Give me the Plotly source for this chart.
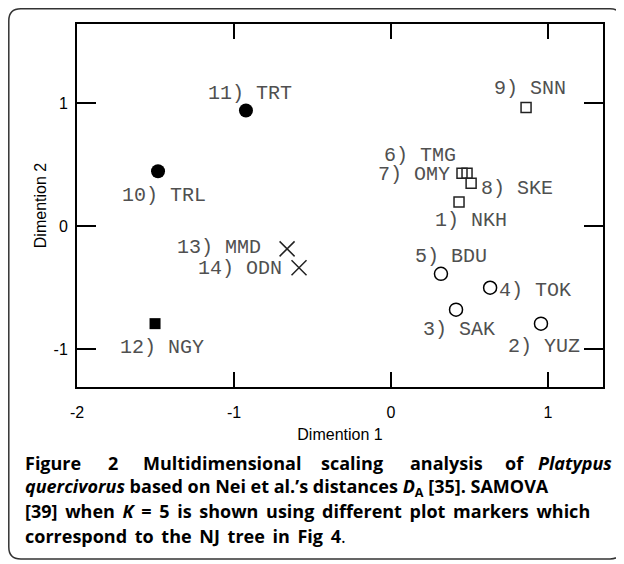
import plotly.graph_objects as go

# ---- data ----
pop_labels = ["1) NKH", "2) YUZ", "3) SAK", "4) TOK", "5) BDU", "6) TMG", "7) OMY",
              "8) SKE", "9) SNN", "10) TRL", "11) TRT", "12) NGY", "13) MMD", "14) ODN"]
dim1 = [0.433, 0.955, 0.414, 0.631, 0.318, 0.452, 0.484, 0.510, 0.860, -1.484, -0.924, -1.503, -0.662, -0.586]
dim2 = [0.194, -0.794, -0.680, -0.502, -0.389, 0.429, 0.429, 0.348, 0.964, 0.445, 0.939, -0.794, -0.186, -0.340]
group = ["sq", "oc", "oc", "oc", "oc", "sq", "sq", "sq", "sq", "fc", "fc", "fs", "x", "x"]
x_ticks = [-2, -1, 0, 1]
y_ticks = [-1, 0, 1]

# label offsets in pixels (style)
label_shift = {
    "1) NKH": (12, -18), "2) YUZ": (3, -23), "3) SAK": (3, -20), "4) TOK": (45, -3),
    "5) BDU": (10, 17), "6) TMG": (-42, 18), "7) OMY": (-53, -1), "8) SKE": (46, -5),
    "9) SNN": (4, 19), "10) TRL": (6, -24), "11) TRT": (4, 17), "12) NGY": (7, -24),
    "13) MMD": (-68, 1), "14) ODN": (-59, -1),
}

styles = {
    "oc": dict(symbol="circle-open", size=13, color="black", line=dict(width=1.5, color="black")),
    "sq": dict(symbol="square-open", size=10, color="#222", line=dict(width=1.5, color="#222")),
    "fc": dict(symbol="circle", size=14, color="black", line=dict(width=0)),
    "fs": dict(symbol="square", size=11, color="black", line=dict(width=0)),
    "x": dict(symbol="x-thin-open", size=15, color="#222", line=dict(width=1.5, color="#222")),
}

fig = go.Figure()
for g, st in styles.items():
    xs = [dim1[i] for i in range(len(dim1)) if group[i] == g]
    ys = [dim2[i] for i in range(len(dim2)) if group[i] == g]
    fig.add_trace(go.Scatter(x=xs, y=ys, mode="markers", marker=st,
                             showlegend=False, hoverinfo="skip"))

for i, lab in enumerate(pop_labels):
    dx, dy = label_shift[lab]
    fig.add_annotation(x=dim1[i], y=dim2[i], xref="x", yref="y", text=lab,
                       showarrow=False, xshift=dx, yshift=dy,
                       font=dict(family="Liberation Mono", size=20, color="#505050"))

axis_common = dict(showline=True, linewidth=2, linecolor="black", mirror="ticks",
                   ticks="inside", tickwidth=2, tickcolor="black", showgrid=False,
                   zeroline=False, automargin=False,
                   tickfont=dict(family="Liberation Sans, Arial", size=16, color="black"),
                   title_font=dict(family="Liberation Sans, Arial", size=16, color="black"))

fig.update_xaxes(range=[-2, 1.35], tickvals=x_ticks, ticktext=[str(v) for v in x_ticks],
                 ticklen=15, title_text="Dimention 1", title_standoff=9,
                 ticklabelstandoff=10, **axis_common)
fig.update_yaxes(range=[-1.309, 1.642], tickvals=y_ticks, ticktext=[str(v) for v in y_ticks],
                 ticklen=19, title_text="Dimention 2", title_standoff=3,
                 ticklabelstandoff=4, **axis_common)

# page body adds an 8px offset, so the figure is 8px smaller than the window
W, H = 616, 556
ml, mr, mt, mb = 69, 21, 16, 177
pw, ph = W - ml - mr, H - mt - mb
OFF = 8


def px(xs):  # screen x -> paper
    return (xs - OFF - ml) / pw


def py(ys):  # screen y -> paper
    return (H - mb - (ys - OFF)) / ph


# rounded frame
x0, x1, y0, y1 = px(8.8), px(622), py(559), py(8.8)
rx, ry = 12 / pw, 12 / ph
path = (f"M {x0+rx},{y1} L {x1-rx},{y1} Q {x1},{y1} {x1},{y1-ry} "
        f"L {x1},{y0+ry} Q {x1},{y0} {x1-rx},{y0} L {x0+rx},{y0} "
        f"Q {x0},{y0} {x0},{y0+ry} L {x0},{y1-ry} Q {x0},{y1} {x0+rx},{y1} Z")
fig.add_shape(type="path", path=path, xref="paper", yref="paper",
              line=dict(color="#333", width=1.5), fillcolor="rgba(0,0,0,0)")

cap_font = dict(family="Open Sans", size=18, color="black")
# caption line 1 (justified)
line1_words = [("<b>Figure</b>", 23, "left"), ("<b>2</b>", 106, "left"),
               ("<b>Multidimensional</b>", 141, "left"), ("<b>scaling</b>", 319, "left"),
               ("<b>analysis</b>", 408, "left"), ("<b>of</b>", 503, "left"),
               ("<b><i>Platypus</i></b>", 614, "right")]
for txt, xp, anc in line1_words:
    fig.add_annotation(x=px(xp), y=py(463), xref="paper", yref="paper", text=txt,
                       showarrow=False, xanchor=anc, yanchor="middle", font=cap_font)

TS = " \u2009"  # word gap widened a little
other_lines = [
    ("<b><i>quercivorus</i> based on Nei et al.\u2019s distances <i>D</i><sub>A</sub> [35]. SAMOVA</b>", 487),
    ("<b>" + TS.join(["[39]", "when", "<i>K</i>", "=", "5", "is", "shown", "using",
                      "different", "plot", "markers", "which"]) + "</b>", 511),
    ("<b>" + TS.join(["correspond", "to", "the", "NJ", "tree", "in", "Fig", "4"]) + "</b>.", 536),
]
for txt, yp in other_lines:
    fig.add_annotation(x=px(23), y=py(yp), xref="paper", yref="paper", text=txt,
                       showarrow=False, xanchor="left", yanchor="middle", font=cap_font)

fig.update_layout(width=W, height=H, margin=dict(l=ml, r=mr, t=mt, b=mb),
                  paper_bgcolor="white", plot_bgcolor="white")

fig.write_html("out.html")
